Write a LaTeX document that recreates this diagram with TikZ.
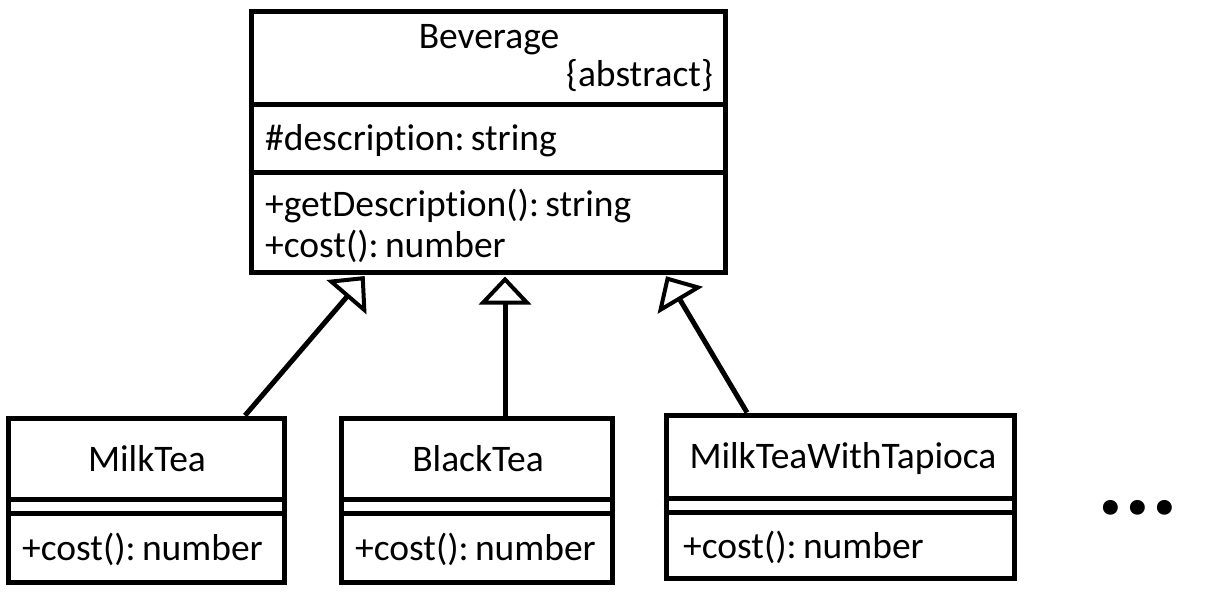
\documentclass[tikz,border=0pt]{standalone}
\usepackage{fontspec}
\setmainfont[Ligatures=NoCommon]{Carlito}
\usetikzlibrary{arrows.meta,positioning,calc}

\begin{document}
\begin{tikzpicture}[x=1pt, y=-1pt,
    cls/.style={rectangle, draw=black, line width=5pt, inner sep=0pt},
    sep/.style={line width=5pt},
    txt/.style={inner sep=0pt, font=\fontsize{37.5}{44}\selectfont},
    inherit/.style={line width=5pt, shorten >=2pt,
                    -{Triangle[open, length=28pt, width=52pt, line width=4pt]}}]

    \useasboundingbox (0,0) rectangle (1224,595);

    % Abstract class
    \node[cls, minimum width=474pt, minimum height=261pt] (bev) at (488,141.5) {};
    \draw[sep] (bev.west |- 0,104) -- (bev.east |- 0,104);
    \draw[sep] (bev.west |- 0,172) -- (bev.east |- 0,172);
    \node[txt, anchor=base] (bevname) at (489,48) {Beverage};
    \node[txt, anchor=base east] (bevabs) at (713,86) {\{abstract\}};
    \node[txt, anchor=base west] (bevattr) at (265,150) {\#description:\,string};
    \node[txt, anchor=base west] (bevop1) at (265,216) {+getDescription():\,string};
    \node[txt, anchor=base west] (bevop2) at (265,257) {+cost():\,number};

    % Concrete classes
    \node[cls, minimum width=276pt, minimum height=164pt] (milk) at (146,500) {};
    \draw[sep] (milk.west |- 0,499) -- (milk.east |- 0,499);
    \draw[sep] (milk.west |- 0,513) -- (milk.east |- 0,513);
    \node[txt, anchor=base] (milkname) at (147,471) {MilkTea};
    \node[txt, anchor=base west] (milkop) at (22,560) {+cost():\,number};

    \node[cls, minimum width=271pt, minimum height=164pt] (black) at (476.5,500) {};
    \draw[sep] (black.west |- 0,499) -- (black.east |- 0,499);
    \draw[sep] (black.west |- 0,513) -- (black.east |- 0,513);
    \node[txt, anchor=base] (blackname) at (478,471) {BlackTea};
    \node[txt, anchor=base west] (blackop) at (355,560) {+cost():\,number};

    \node[cls, minimum width=348pt, minimum height=163pt] (tapioca) at (840,496.5) {};
    \draw[sep] (tapioca.west |- 0,498) -- (tapioca.east |- 0,498);
    \draw[sep] (tapioca.west |- 0,512) -- (tapioca.east |- 0,512);
    \node[txt, anchor=base] (tapname) at (843,468) {MilkTeaWithTapioca};
    \node[txt, anchor=base west] (tapop) at (683,558) {+cost():\,number};

    \node[inner sep=0pt, font=\fontsize{100}{100}\selectfont\bfseries] (more) at (1138,508) {...};

    % Generalisation
    \draw[inherit] ([xshift=99pt]milk.north) -- ([xshift=-122pt]bev.south);
    \draw[inherit] ([xshift=28.5pt]black.north) -- ([xshift=17pt]bev.south);
    \draw[inherit] ([xshift=-93pt]tapioca.north) -- ([xshift=177pt]bev.south);

\end{tikzpicture}
\end{document}
